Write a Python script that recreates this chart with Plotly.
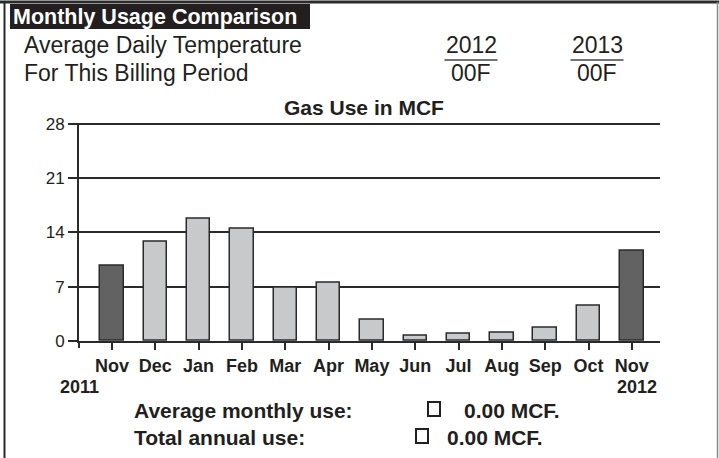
import plotly.graph_objects as go

# ---- data ----
months = ["Nov", "Dec", "Jan", "Feb", "Mar", "Apr", "May", "Jun", "Jul", "Aug", "Sep", "Oct", "Nov"]
usage_mcf = [9.7, 12.8, 15.8, 14.5, 6.8, 7.5, 2.7, 0.7, 0.9, 1.0, 1.7, 4.6, 11.6]
bar_kind = ["prev", "cur", "cur", "cur", "cur", "cur", "cur", "cur", "cur", "cur", "cur", "cur", "prev"]
y_ticks = [0, 7, 14, 21, 28]
years_axis = ["2011", "2012"]
temp_years = ["2012", "2013"]
temp_values = ["00F", "00F"]
summary_labels = ["Average monthly use:", "Total annual use:"]
summary_values = ["0.00 MCF.", "0.00 MCF."]

W, H = 719, 458
FONT = "Liberation Sans, Arial, Helvetica, sans-serif"
TXT = "#231f20"
DARK = "#626262"
LIGHT = "#c8c9cb"


def px(x):
    return x / W


def py(y):
    return 1 - y / H


colors = [DARK if k == "prev" else LIGHT for k in bar_kind]
xs = list(range(len(months)))

fig = go.Figure()
fig.add_trace(go.Bar(
    x=xs, y=usage_mcf, width=0.54,
    marker=dict(color=colors, line=dict(color="#2a2a2a", width=1.5)),
    hoverinfo="skip", showlegend=False,
))

x_left, x_right = 79, 660
y0_px, y28_px = 341, 124
ppu = (y0_px - y28_px) / 28.0
ytop = 28.15
top_px = y0_px - ytop * ppu

fig.update_layout(
    width=W, height=H, autosize=False,
    margin=dict(l=0, r=0, t=0, b=0, pad=0),
    paper_bgcolor="white", plot_bgcolor="white",
    font=dict(family=FONT, color=TXT),
    bargap=0,
    xaxis=dict(
        domain=[px(x_left), px(x_right)],
        range=[-0.76, 12.65],
        tickmode="array", tickvals=xs, ticktext=months,
        ticks="outside", ticklen=7, tickwidth=1.5, tickcolor="#2a2a2a",
        showline=True, linewidth=2, linecolor="#2a2a2a",
        showgrid=False, zeroline=False, automargin=False,
        tickfont=dict(size=18, family=FONT, color=TXT, weight="bold"),
        fixedrange=True,
    ),
    yaxis=dict(
        domain=[py(y0_px), py(top_px)],
        range=[0, ytop],
        tickmode="array", tickvals=y_ticks,
        ticks="outside", ticklen=9, tickwidth=1.5, tickcolor="#2a2a2a",
        showline=True, linewidth=2, linecolor="#2a2a2a",
        showgrid=True, gridcolor="#2a2a2a", gridwidth=1.5,
        zeroline=False, automargin=False,
        tickfont=dict(size=17, family=FONT, color=TXT),
        fixedrange=True,
    ),
)

shapes = []
shapes.append(dict(type="line", xref="paper", yref="paper", x0=0, x1=1, y0=py(2), y1=py(2),
                   line=dict(color="#2a2a2a", width=3)))
shapes.append(dict(type="line", xref="paper", yref="paper", x0=px(4.5), x1=px(4.5), y0=py(2), y1=0,
                   line=dict(color="#2a2a2a", width=2)))
shapes.append(dict(type="line", xref="paper", yref="paper", x0=px(717.5), x1=px(717.5), y0=py(2), y1=0,
                   line=dict(color="#8a8a8a", width=1.5)))
shapes.append(dict(type="rect", xref="paper", yref="paper", x0=px(10), x1=px(310), y0=py(29), y1=py(4),
                   fillcolor=TXT, line=dict(width=0)))
for cx in (471, 597):
    shapes.append(dict(type="line", xref="paper", yref="paper", x0=px(cx - 26.5), x1=px(cx + 26.5),
                       y0=py(60), y1=py(60), line=dict(color="#444", width=1.5)))
shapes.append(dict(type="line", xref="paper", yref="paper", x0=px(x_left), x1=px(x_left),
                   y0=py(y0_px), y1=py(348), line=dict(color="#2a2a2a", width=2)))
for (bx0, by0) in ((428, 402), (416, 429)):
    shapes.append(dict(type="rect", xref="paper", yref="paper", x0=px(bx0), x1=px(bx0 + 12),
                       y0=py(by0 + 14), y1=py(by0), line=dict(color=TXT, width=2), fillcolor="white"))
fig.update_layout(shapes=shapes)

ann = []


def add_text(text, x, y, size, bold=False, color=TXT, xanchor="left"):
    ann.append(dict(text=text, x=px(x), y=py(y), xref="paper", yref="paper",
                    xanchor=xanchor, yanchor="middle", showarrow=False,
                    font=dict(size=size, family=FONT, color=color, weight="bold" if bold else "normal")))


add_text("Monthly Usage Comparison", 11, 16.5, 21.5, bold=True, color="white")
add_text("Average Daily Temperature", 22, 45, 23)
add_text("For This Billing Period", 22, 73, 23)
for cx, yr, tv in zip((471, 597), temp_years, temp_values):
    add_text(yr, cx, 45, 23, xanchor="center")
    add_text(tv, cx, 73, 23, xanchor="center")
add_text("Gas Use in MCF", 364, 107.5, 21, bold=True, xanchor="center")
add_text(years_axis[0], 79, 386.5, 18, bold=True, xanchor="center")
add_text(years_axis[1], 637, 386.5, 18, bold=True, xanchor="center")
add_text(summary_labels[0], 132, 410, 21, bold=True)
add_text(summary_labels[1], 132, 437, 21, bold=True)
add_text(summary_values[0], 462, 410, 21, bold=True)
add_text(summary_values[1], 445, 437, 21, bold=True)
fig.update_layout(annotations=ann)

css_fix = (
    "var s=document.createElement('style');"
    "s.textContent='html,body{margin:0 !important;padding:0 !important;overflow:hidden;"
    "width:719px;height:458px;}';"
    "document.head.appendChild(s);"
)

fig.write_html(
    "out.html",
    config={"displayModeBar": False},
    post_script=css_fix,
)
